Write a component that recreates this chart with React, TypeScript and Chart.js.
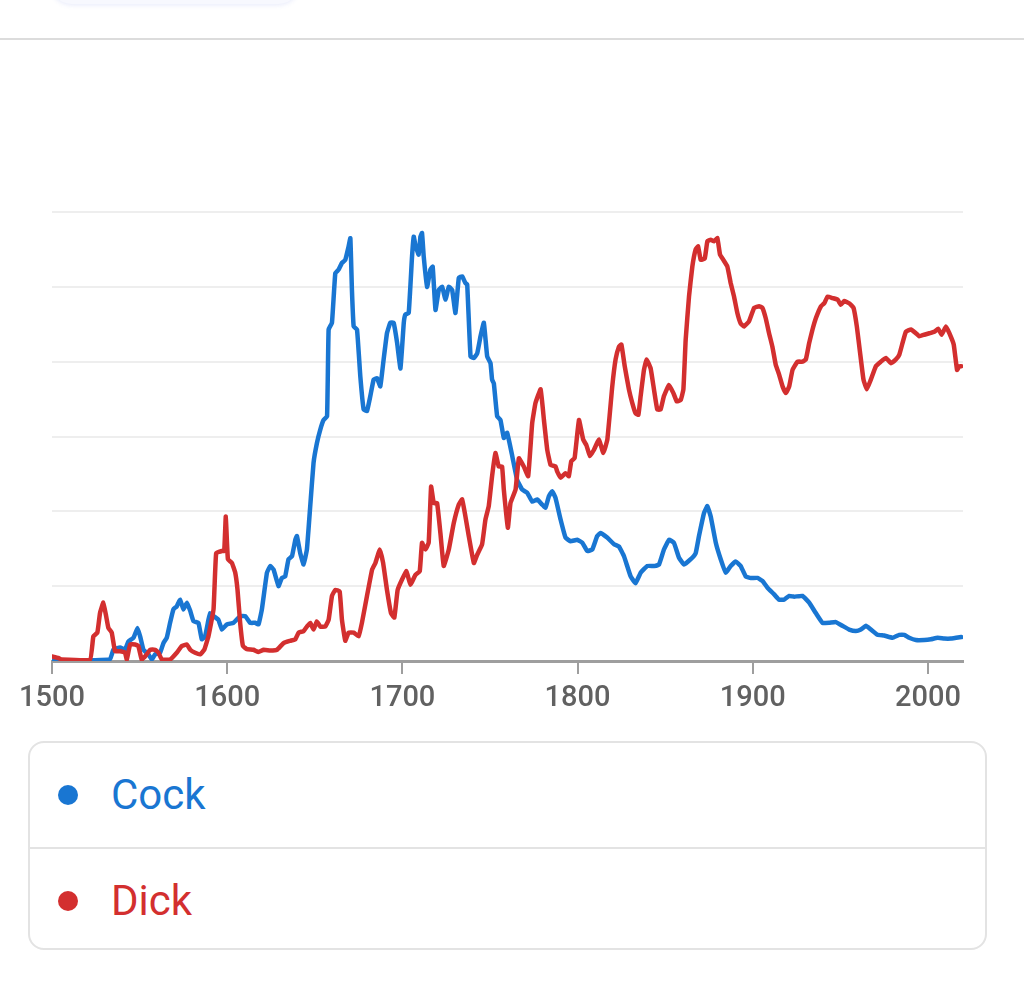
import React, { useEffect, useRef } from "react";
import { Chart, registerables } from "chart.js";

Chart.register(...registerables);

const seriesNames = ["Cock", "Dick"];
const seriesColors = ["#1976d2", "#d32f2f"];
const xTicks = [1500, 1600, 1700, 1800, 1900, 2000];

const cockYears = [
  1500, 1533, 1535, 1538.9, 1541.7, 1543.6, 1546.5, 1548.8, 1550.3, 1552.2, 1555, 1557, 1558.9, 1561.7, 1563.6,
  1565.5, 1567.4, 1569.3, 1571.2, 1573.1, 1575, 1577, 1578.9, 1580.8, 1583.6, 1585.5, 1587.4, 1589.3, 1590.3,
  1592.2, 1595, 1597, 1599.8, 1603.6, 1607.4, 1610.3, 1613.1, 1616, 1617.9, 1619.8, 1622.7, 1624.6, 1626.5,
  1629.3, 1631.2, 1633.1, 1635, 1637, 1638.9, 1639.8, 1641.7, 1643.6, 1645.5, 1647.4, 1649.3, 1651.2, 1653.1,
  1655, 1657, 1657.9, 1659.8, 1661.7, 1663.6, 1665.5, 1667.4, 1669.3, 1670.3, 1671.2, 1672.2, 1674.1, 1676,
  1677.9, 1679.8, 1681.7, 1683.6, 1685.5, 1687.4, 1689.3, 1691.2, 1693.1, 1695, 1697, 1698.9, 1700.8, 1701.7,
  1703.6, 1705.5, 1706.5, 1707.4, 1709.3, 1710.3, 1711.2, 1712.2, 1714.1, 1716, 1717.3, 1718.9, 1720.8, 1722.7,
  1724.6, 1726.5, 1728.4, 1730.3, 1732.2, 1734.1, 1736, 1737, 1738.9, 1740.8, 1742.7, 1744.6, 1746.5, 1748.4,
  1750.3, 1751.2, 1752.2, 1754.1, 1756, 1757.9, 1759.8, 1762.7, 1765.5, 1768.4, 1771.2, 1774.1, 1777, 1779.8,
  1781.7, 1783.6, 1785.5, 1787.4, 1790.3, 1793.1, 1796, 1799.8, 1802.7, 1805.5, 1808.4, 1811.2, 1813.1, 1816.9,
  1820.8, 1823.6, 1826.5, 1830.3, 1833.1, 1836, 1839.8, 1843.6, 1846.5, 1849.3, 1852.2, 1855, 1857.9, 1860.8,
  1864.6, 1867.4, 1869.3, 1872.2, 1874.1, 1876, 1878.9, 1881.7, 1884.6, 1887.4, 1890.3, 1893.1, 1896, 1898.9,
  1902.7, 1905.5, 1908.4, 1912.2, 1915, 1917.9, 1920.8, 1923.6, 1928.4, 1932.2, 1936, 1939.8, 1943.6, 1947.4,
  1951.2, 1955, 1958.9, 1961.7, 1964.6, 1967.4, 1971.2, 1975, 1979.8, 1983.6, 1986.5, 1989.3, 1993.1, 1997.9,
  2001.7, 2005.5, 2009.3, 2013.1, 2019,
];
const cockValues = [
  0, 0.02, 0.15, 0.18, 0.15, 0.26, 0.31, 0.44, 0.33, 0.15, 0.09, 0.02, 0.09, 0.11, 0.24,
  0.31, 0.51, 0.69, 0.73, 0.82, 0.69, 0.78, 0.67, 0.53, 0.51, 0.29, 0.33, 0.55, 0.64,
  0.6, 0.55, 0.42, 0.49, 0.51, 0.6, 0.6, 0.51, 0.51, 0.49, 0.69, 1.18, 1.27, 1.22,
  1.0, 1.11, 1.13, 1.36, 1.4, 1.62, 1.67, 1.44, 1.29, 1.49, 2.07, 2.65, 2.91, 3.09,
  3.22, 3.27, 4.43, 4.52, 5.18, 5.23, 5.32, 5.36, 5.54, 5.65, 4.96, 4.47, 4.43, 3.8,
  3.36, 3.34, 3.54, 3.76, 3.78, 3.67, 4.03, 4.38, 4.52, 4.52, 4.25, 3.91, 4.52, 4.63,
  4.65, 5.4, 5.67, 5.56, 5.43, 5.67, 5.72, 5.4, 5.0, 5.23, 5.27, 4.69, 4.96, 5.0,
  4.83, 5.0, 4.96, 4.65, 5.12, 5.14, 5.05, 5.03, 4.07, 4.05, 4.11, 4.34, 4.52, 4.07,
  3.98, 3.76, 3.71, 3.27, 3.22, 2.98, 3.05, 2.74, 2.42, 2.29, 2.25, 2.13, 2.16, 2.09,
  2.05, 2.2, 2.27, 2.18, 1.89, 1.65, 1.6, 1.62, 1.58, 1.47, 1.49, 1.67, 1.71, 1.65,
  1.56, 1.53, 1.4, 1.13, 1.04, 1.18, 1.27, 1.27, 1.29, 1.49, 1.62, 1.58, 1.38, 1.29,
  1.36, 1.44, 1.67, 1.98, 2.07, 1.93, 1.58, 1.36, 1.18, 1.27, 1.33, 1.27, 1.13, 1.11,
  1.11, 1.07, 0.98, 0.89, 0.82, 0.82, 0.87, 0.86, 0.87, 0.78, 0.64, 0.51, 0.51, 0.52,
  0.47, 0.42, 0.4, 0.42, 0.47, 0.42, 0.35, 0.34, 0.31, 0.35, 0.35, 0.31, 0.28, 0.28,
  0.29, 0.31, 0.3, 0.3, 0.32,
];

const dickYears = [
  1500, 1503.6, 1505.5, 1521.7, 1523.6, 1525.9, 1527.4, 1529.3, 1530.9, 1532.2, 1534.1, 1536, 1538.9, 1541.7,
  1542.7, 1544.6, 1547.4, 1549.3, 1551.2, 1553.1, 1556, 1558.9, 1560.8, 1562.7, 1567.4, 1571.2, 1574.1, 1577,
  1578.9, 1581.7, 1584.6, 1586.9, 1589.3, 1592.2, 1593.7, 1596.9, 1598.3, 1599.2, 1600.4, 1602.7, 1604.6, 1605.9,
  1607.4, 1609, 1611.2, 1615, 1617.9, 1620.8, 1624.6, 1628.4, 1632.2, 1636, 1638.9, 1640.8, 1643.6, 1645.5,
  1647.4, 1649.3, 1651.2, 1653.1, 1656, 1657.9, 1659.8, 1661.7, 1664.2, 1665.5, 1667.4, 1669.3, 1672.2, 1675,
  1676.9, 1679.8, 1682.7, 1684.6, 1687.1, 1689, 1691.2, 1693.5, 1695.4, 1697.3, 1699.8, 1702.3, 1704.6, 1707.4,
  1709.9, 1711.2, 1713.1, 1715, 1716.4, 1717.9, 1719.8, 1721.7, 1723.6, 1726.5, 1729.3, 1732.2, 1734.1, 1736,
  1737.9, 1740.8, 1742.7, 1745.5, 1747.4, 1749.3, 1751.2, 1753.1, 1755, 1756.9, 1757.9, 1760.2, 1761.7, 1764.6,
  1766.5, 1769.3, 1771.8, 1774.1, 1776, 1778.9, 1780.8, 1782.7, 1784.6, 1787.4, 1788.4, 1790.3, 1793.1, 1795,
  1796.4, 1798.3, 1800.8, 1803.2, 1805.1, 1807, 1809.3, 1812.2, 1814.7, 1817, 1819.8, 1821.7, 1823.6, 1825,
  1826.9, 1829.3, 1831.2, 1833.1, 1834.7, 1836, 1837.9, 1839.4, 1841.7, 1843.6, 1845.5, 1847.4, 1849.3, 1852.2,
  1854.7, 1856.6, 1858.9, 1860.4, 1861.7, 1863.6, 1865.5, 1867.4, 1868.8, 1870.3, 1872.6, 1874.1, 1876, 1877.9,
  1879.8, 1881.3, 1883.2, 1885.5, 1887.4, 1889.3, 1891.2, 1893.1, 1895, 1897.9, 1900.8, 1903.6, 1905.5, 1907.4,
  1909.3, 1911.2, 1913.1, 1915, 1917, 1918.9, 1920.8, 1922.7, 1925.5, 1928.4, 1930.3, 1932.2, 1934.1, 1936,
  1938.9, 1940.8, 1942.7, 1945.5, 1948.4, 1950.3, 1952.2, 1955, 1957.5, 1959.4, 1961.3, 1963.2, 1965.1, 1967.4,
  1970.3, 1973.1, 1976, 1978.9, 1981.7, 1983.6, 1985.5, 1987.4, 1990.3, 1993.1, 1995, 1997.9, 2000.8, 2003.6,
  2005.9, 2007.8, 2010.3, 2012.2, 2014.7, 2016.6, 2017.9, 2019,
];
const dickValues = [
  0.06, 0.04, 0.02, 0.02, 0.33, 0.38, 0.64, 0.78, 0.6, 0.44, 0.38, 0.13, 0.13, 0.11,
  0.02, 0.22, 0.22, 0.2, 0.02, 0.06, 0.15, 0.15, 0.11, 0.02, 0.02, 0.11, 0.2, 0.22,
  0.15, 0.11, 0.09, 0.15, 0.33, 0.69, 1.44, 1.47, 1.47, 1.93, 1.36, 1.31, 1.18, 0.95,
  0.51, 0.2, 0.16, 0.15, 0.12, 0.15, 0.14, 0.15, 0.24, 0.27, 0.29, 0.38, 0.4, 0.46,
  0.51, 0.42, 0.53, 0.46, 0.46, 0.55, 0.87, 0.95, 0.93, 0.55, 0.27, 0.38, 0.38, 0.33,
  0.51, 0.87, 1.22, 1.31, 1.49, 1.31, 0.95, 0.64, 0.58, 0.95, 1.09, 1.2, 1.02, 1.15,
  1.2, 1.58, 1.49, 1.58, 2.33, 2.11, 2.11, 1.71, 1.27, 1.49, 1.84, 2.09, 2.16, 1.93,
  1.67, 1.31, 1.42, 1.56, 1.89, 2.07, 2.47, 2.78, 2.6, 2.6, 2.29, 1.78, 2.11, 2.29,
  2.71, 2.6, 2.47, 3.18, 3.45, 3.63, 3.22, 2.82, 2.62, 2.6, 2.53, 2.45, 2.51, 2.47,
  2.67, 2.71, 3.22, 2.96, 2.88, 2.74, 2.82, 2.96, 2.78, 2.96, 3.67, 4.03, 4.2, 4.23,
  3.94, 3.63, 3.45, 3.31, 3.29, 3.54, 3.89, 4.03, 3.91, 3.63, 3.36, 3.36, 3.54, 3.69,
  3.58, 3.47, 3.49, 3.63, 4.29, 4.87, 5.27, 5.5, 5.54, 5.36, 5.38, 5.61, 5.63, 5.61,
  5.65, 5.43, 5.36, 5.27, 5.05, 4.87, 4.65, 4.51, 4.47, 4.54, 4.72, 4.74, 4.72, 4.58,
  4.38, 4.2, 3.96, 3.83, 3.67, 3.58, 3.67, 3.89, 4.0, 4.0, 4.03, 4.25, 4.43, 4.58,
  4.74, 4.78, 4.87, 4.85, 4.83, 4.76, 4.81, 4.78, 4.72, 4.47, 4.11, 3.76, 3.63, 3.76,
  3.94, 4.0, 4.05, 3.98, 4.03, 4.09, 4.25, 4.4, 4.43, 4.38, 4.34, 4.36, 4.38, 4.4,
  4.44, 4.36, 4.47, 4.38, 4.23, 3.89, 3.94, 3.94,
];

const toPoints = (xs: number[], ys: number[]) => xs.map((x, i) => ({ x, y: ys[i] }));

function ChartCanvas() {
  const ref = useRef<HTMLCanvasElement | null>(null);
  useEffect(() => {
    if (!ref.current) return;
    const chart = new Chart(ref.current, {
      type: "line",
      data: {
        datasets: [
          {
            label: seriesNames[1],
            data: toPoints(dickYears, dickValues),
            borderColor: seriesColors[1],
            backgroundColor: seriesColors[1],
          },
          {
            label: seriesNames[0],
            data: toPoints(cockYears, cockValues),
            borderColor: seriesColors[0],
            backgroundColor: seriesColors[0],
          },
        ],
      },
      options: {
        animation: false,
        responsive: false,
        maintainAspectRatio: false,
        devicePixelRatio: 1,
        layout: { padding: { left: 52, right: 61, top: 212, bottom: 19 } },
        plugins: { legend: { display: false }, tooltip: { enabled: false } },
        elements: {
          point: { radius: 0 },
          line: { borderWidth: 4.5, tension: 0.1, borderJoinStyle: "round", borderCapStyle: "round" },
        },
        scales: {
          x: {
            type: "linear",
            min: 1500,
            max: 2020,
            afterBuildTicks: (s: any) => {
              s.ticks = xTicks.map((v) => ({ value: v }));
            },
            afterFit: (s: any) => {
              s.height = 60;
            },
            grid: { drawOnChartArea: false, drawTicks: true, tickLength: 13, color: "#9e9e9e", lineWidth: 2 },
            border: { display: true, color: "#9e9e9e", width: 3 },
            ticks: {
              font: { family: "Roboto", size: 29, weight: "500" },
              color: "#616161",
              padding: 7,
              maxRotation: 0,
              autoSkip: false,
              callback: (v: any) => String(v),
            },
          },
          y: {
            min: 0,
            max: 6,
            afterFit: (s: any) => {
              s.width = 0;
            },
            ticks: { display: false, stepSize: 1 },
            grid: { color: "#eeeeee", lineWidth: 2, drawTicks: false },
            border: { display: false },
          },
        },
      },
    } as any);
    return () => chart.destroy();
  }, []);
  return (
    <canvas
      ref={ref}
      width={1024}
      height={740}
      style={{ position: "absolute", left: 0, top: 0, width: 1024, height: 740, display: "block" }}
    />
  );
}

export default function App() {
  const rowStyle: React.CSSProperties = {
    height: 104,
    display: "flex",
    alignItems: "center",
    position: "relative",
  };
  return (
    <div style={{ position: "absolute", left: 0, top: 0, width: 1024, height: 990, background: "#fff", overflow: "hidden", fontFamily: "Roboto, sans-serif" }}>
      <div
        style={{
          position: "absolute",
          left: 50,
          top: -40,
          width: 250,
          height: 44,
          borderRadius: 22,
          background: "#f7f8fe",
          boxShadow: "0 1px 5px rgba(90,110,220,0.15)",
        }}
      />
      <div style={{ position: "absolute", left: 0, top: 38, width: 1024, height: 2, background: "#dcdcdc" }} />
      <ChartCanvas />
      <div
        style={{
          position: "absolute",
          left: 28,
          top: 741,
          width: 959,
          height: 209,
          border: "2px solid #e3e3e3",
          borderRadius: 16,
          boxSizing: "border-box",
        }}
      >
        {seriesNames.map((name, i) => (
          <div
            key={name}
            style={{
              ...rowStyle,
              borderTop: i > 0 ? "2px solid #e3e3e3" : "none",
            }}
          >
            <span
              style={{
                position: "absolute",
                left: 28,
                top: "50%",
                width: 20,
                height: 20,
                marginTop: -10,
                borderRadius: "50%",
                background: seriesColors[i],
              }}
            />
            <span
              style={{
                position: "absolute",
                left: 81,
                fontSize: 42,
                color: seriesColors[i],
                lineHeight: "42px",
              }}
            >
              {name}
            </span>
          </div>
        ))}
      </div>
    </div>
  );
}
